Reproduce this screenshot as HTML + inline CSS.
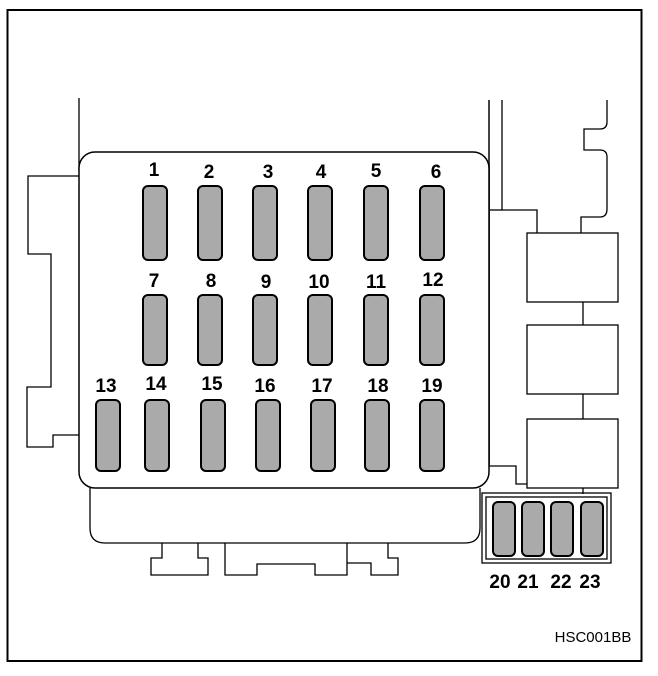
<!DOCTYPE html>
<html><head><style>html,body{margin:0;padding:0;background:#fff}svg{display:block}text{font-family:"Liberation Sans",sans-serif;font-weight:bold;font-size:19px;text-anchor:middle}</style></head>
<body>
<svg width="658" height="676" viewBox="0 0 658 676" xmlns="http://www.w3.org/2000/svg">
<rect x="7.5" y="10" width="634" height="651" fill="none" stroke="#000" stroke-width="2"/>
<g fill="none" stroke="#000" stroke-width="1.3">
<path d="M79 98 V170"/>
<path d="M79 176 H28 V254 H51 V387 H27 V447 H53 V435 H79"/>
<path d="M90 488 V528 Q90 543 105 543 H465 Q480 543 480 528 V488"/>
<path d="M162 543 V558 H151 V575 H208 V558 H198 V543"/>
<path d="M225 543 V575 H257 V564 H315 V575 H347 V543"/>
<path d="M347 563 H371 V575 H398 V558 H388 V543"/>
<path d="M502 100 V210 H537 V233"/>
<path d="M489 210 H502"/>
<path d="M607 100 V122 Q607 129 600 129 H584 V150 H600 Q607 150 607 157 V209 Q607 217 600 217 H581 V233"/>
<rect x="527" y="233" width="91" height="69"/>
<rect x="527" y="325" width="91" height="69"/>
<rect x="527" y="419" width="91" height="69"/>
<path d="M583 302 V325 M583 394 V419 M583 488 V494"/>
<path d="M489 466 H516 V484 H527"/>
<rect x="482" y="493" width="129" height="70"/>
<rect x="486" y="497" width="121" height="62"/>
</g>
<path d="M489 100 V466" stroke="#444" stroke-width="2" fill="none"/>
<rect x="79" y="152" width="410" height="336" rx="16" fill="#fff" stroke="#000" stroke-width="1.5"/>
<g fill="#aaa" stroke="#000" stroke-width="2">
<rect x="143" y="186" width="24" height="74" rx="5"/>
<rect x="198" y="186" width="24" height="74" rx="5"/>
<rect x="253" y="186" width="24" height="74" rx="5"/>
<rect x="308" y="186" width="24" height="74" rx="5"/>
<rect x="364" y="186" width="24" height="74" rx="5"/>
<rect x="420" y="186" width="24" height="74" rx="5"/>
<rect x="143" y="295" width="24" height="70" rx="5"/>
<rect x="198" y="295" width="24" height="70" rx="5"/>
<rect x="253" y="295" width="24" height="70" rx="5"/>
<rect x="308" y="295" width="24" height="70" rx="5"/>
<rect x="364" y="295" width="24" height="70" rx="5"/>
<rect x="420" y="295" width="24" height="70" rx="5"/>
<rect x="96" y="400" width="24" height="71" rx="5"/>
<rect x="145" y="400" width="24" height="71" rx="5"/>
<rect x="201" y="400" width="24" height="71" rx="5"/>
<rect x="256" y="400" width="24" height="71" rx="5"/>
<rect x="311" y="400" width="24" height="71" rx="5"/>
<rect x="365" y="400" width="24" height="71" rx="5"/>
<rect x="420" y="400" width="24" height="71" rx="5"/>
<rect x="493" y="502" width="22" height="54" rx="5"/>
<rect x="522" y="502" width="22" height="54" rx="5"/>
<rect x="551" y="502" width="22" height="54" rx="5"/>
<rect x="581" y="502" width="22" height="54" rx="5"/>
</g>
<g>
<text x="154" y="176">1</text><text x="209" y="178">2</text><text x="268" y="178">3</text><text x="321" y="178">4</text><text x="376" y="177">5</text><text x="436" y="178">6</text>
<text x="154" y="287">7</text><text x="211" y="287">8</text><text x="266" y="288">9</text><text x="319" y="288">10</text><text x="376" y="288">11</text><text x="433" y="286">12</text>
<text x="106" y="392">13</text><text x="156" y="390">14</text><text x="212" y="390">15</text><text x="265" y="392">16</text><text x="322" y="392">17</text><text x="378" y="392">18</text><text x="432" y="392">19</text>
<text x="500" y="588">20</text><text x="528" y="588">21</text><text x="561" y="588">22</text><text x="590" y="588">23</text>
</g>
<text x="593" y="642" style="font-weight:normal;font-size:15px">HSC001BB</text>
</svg>
</body></html>
